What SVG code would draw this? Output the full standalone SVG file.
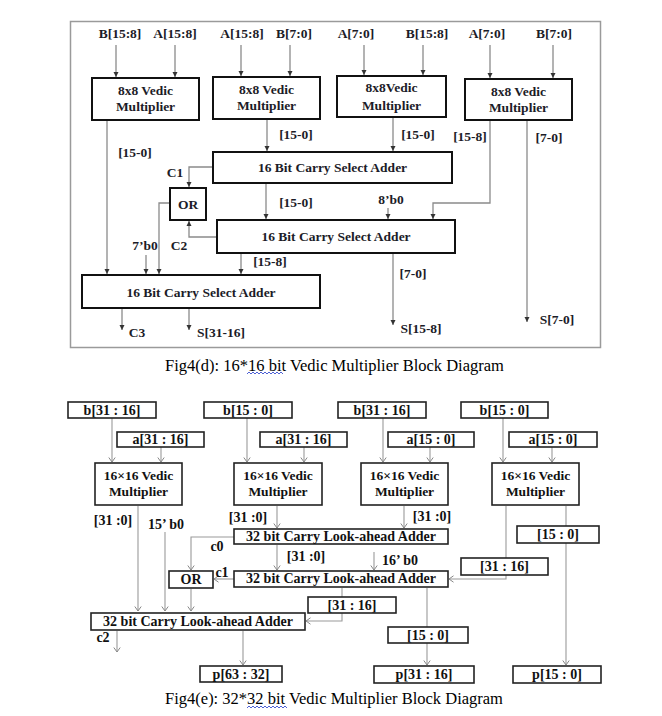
<svg xmlns="http://www.w3.org/2000/svg" width="662" height="716" viewBox="0 0 662 716">
<defs>
<style>
.t{font-family:"Liberation Serif","Times New Roman",serif;font-weight:bold;font-size:13.5px;fill:#1c1c28;text-anchor:middle}
.b{font-family:"Liberation Serif","Times New Roman",serif;font-weight:bold;font-size:14px;fill:#111;text-anchor:middle}
.m{font-family:"Liberation Serif","Times New Roman",serif;font-weight:bold;font-size:13.5px;fill:#111;text-anchor:middle}
.cap{font-family:"Liberation Serif","Times New Roman",serif;font-size:16.5px;fill:#000;text-anchor:middle}
.box{fill:#fff;stroke:#111;stroke-width:2}
.bx{fill:#fff;stroke:#222;stroke-width:1.6}
.ct{fill:none;stroke:#8a8a8a;stroke-width:1.3}
.cb{fill:none;stroke:#9a9a9a;stroke-width:1.1}
.wv{fill:none;stroke:#3a4fd0;stroke-width:0.9}
</style>
<marker id="aT" markerUnits="userSpaceOnUse" markerWidth="6" markerHeight="6" refX="5" refY="3" orient="auto">
<path d="M0,0.5 L5,3 L0,5.5 z" fill="#333"/>
</marker>
<marker id="aB" markerUnits="userSpaceOnUse" markerWidth="7" markerHeight="8" refX="5" refY="4" orient="auto">
<path d="M0.5,0.8 L5,4 L0.5,7.2" fill="none" stroke="#888" stroke-width="1"/>
</marker>
</defs>
<rect width="662" height="716" fill="#fff"/>

<!-- ===== Fig 4(d) ===== -->
<rect x="70.5" y="21.5" width="530" height="326" fill="none" stroke="#9a9a9a" stroke-width="1.5"/>

<g id="connectors-top">
<path class="ct" d="M116,45 V77" marker-end="url(#aT)"/>
<path class="ct" d="M175,45 V77" marker-end="url(#aT)"/>
<path class="ct" d="M241,45 V76" marker-end="url(#aT)"/>
<path class="ct" d="M290,45 V76" marker-end="url(#aT)"/>
<path class="ct" d="M364,45 V75" marker-end="url(#aT)"/>
<path class="ct" d="M423,45 V75" marker-end="url(#aT)"/>
<path class="ct" d="M490,45 V78" marker-end="url(#aT)"/>
<path class="ct" d="M553,45 V78" marker-end="url(#aT)"/>
<path class="ct" d="M107,121 V274" marker-end="url(#aT)"/>
<path class="ct" d="M267,120 V151" marker-end="url(#aT)"/>
<path class="ct" d="M393,118 V151" marker-end="url(#aT)"/>
<path class="ct" d="M490,121 V203 H433 V219" marker-end="url(#aT)"/>
<path class="ct" d="M527,121 V322" marker-end="url(#aT)"/>
<path class="ct" d="M213,167 H189 V187" marker-end="url(#aT)"/>
<path class="ct" d="M266,184 V219" marker-end="url(#aT)"/>
<path class="ct" d="M388,208 V219" marker-end="url(#aT)"/>
<path class="ct" d="M217,237 H189 V221" marker-end="url(#aT)"/>
<path class="ct" d="M170,203 H159 V274" marker-end="url(#aT)"/>
<path class="ct" d="M146,255 V274" marker-end="url(#aT)"/>
<path class="ct" d="M241,254 V274" marker-end="url(#aT)"/>
<path class="ct" d="M393,254 V325" marker-end="url(#aT)"/>
<path class="ct" d="M122,309 V330" marker-end="url(#aT)"/>
<path class="ct" d="M189,309 V330" marker-end="url(#aT)"/>
</g>

<g id="top-labels">
<text class="t" x="120" y="38">B[15:8]</text>
<text class="t" x="175" y="38">A[15:8]</text>
<text class="t" x="242" y="38">A[15:8]</text>
<text class="t" x="294" y="38">B[7:0]</text>
<text class="t" x="356" y="38">A[7:0]</text>
<text class="t" x="427" y="38">B[15:8]</text>
<text class="t" x="487" y="38">A[7:0]</text>
<text class="t" x="554" y="38">B[7:0]</text>
<text class="t" x="135" y="157">[15-0]</text>
<text class="t" x="296" y="139">[15-0]</text>
<text class="t" x="418" y="139">[15-0]</text>
<text class="t" x="470" y="141">[15-8]</text>
<text class="t" x="549" y="142">[7-0]</text>
<text class="t" x="175" y="177">C1</text>
<text class="t" x="296" y="207">[15-0]</text>
<text class="t" x="391" y="204">8’b0</text>
<text class="t" x="179" y="250">C2</text>
<text class="t" x="145" y="250">7’b0</text>
<text class="t" x="270" y="266">[15-8]</text>
<text class="t" x="413" y="278">[7-0]</text>
<text class="t" x="421" y="333">S[15-8]</text>
<text class="t" x="557" y="324">S[7-0]</text>
<text class="t" x="137" y="337">C3</text>
<text class="t" x="221" y="337">S[31-16]</text>
</g>

<g id="vm1"><rect class="box" x="92" y="78" width="107" height="42"/><text class="t" x="145.5" y="95">8x8 Vedic</text><text class="t" x="145.5" y="111">Multiplier</text></g>
<g id="vm2"><rect class="box" x="213" y="77" width="107" height="42"/><text class="t" x="266.5" y="94">8x8 Vedic</text><text class="t" x="266.5" y="110">Multiplier</text></g>
<g id="vm3"><rect class="box" x="337" y="76" width="109" height="41"/><text class="t" x="391.5" y="92">8x8Vedic</text><text class="t" x="391.5" y="110">Multiplier</text></g>
<g id="vm4"><rect class="box" x="465" y="79" width="107" height="41"/><text class="t" x="518.5" y="96">8x8 Vedic</text><text class="t" x="518.5" y="112">Multiplier</text></g>
<g id="csa1"><rect class="box" x="213" y="152" width="239" height="31"/><text class="t" x="332.5" y="172">16 Bit Carry Select Adder</text></g>
<g id="or1"><rect class="box" x="170" y="188" width="36" height="32"/><text class="t" x="188" y="209">OR</text></g>
<g id="csa2"><rect class="box" x="217" y="220" width="238" height="33"/><text class="t" x="336" y="241">16 Bit Carry Select Adder</text></g>
<g id="csa3"><rect class="box" x="82" y="275" width="238" height="33"/><text class="t" x="201" y="297">16 Bit Carry Select Adder</text></g>

<g id="caption1">
<text class="cap" x="334.5" y="371">Fig4(d): 16*16 bit Vedic Multiplier Block Diagram</text>
<path class="wv" d="M247,374 l2,-2 l2,2 l2,-2 l2,2 l2,-2 l2,2 l2,-2 l2,2 l2,-2 l2,2 l2,-2 l2,2 l2,-2 l2,2 l2,-2 l2,2 l2,-2 l2,2"/>
</g>

<!-- ===== Fig 4(e) ===== -->
<g id="connectors-bottom">
<path class="cb" d="M112,418 V462" marker-end="url(#aB)"/>
<path class="cb" d="M161,447 V462" marker-end="url(#aB)"/>
<path class="cb" d="M247,418 V462" marker-end="url(#aB)"/>
<path class="cb" d="M304,447 V462" marker-end="url(#aB)"/>
<path class="cb" d="M383,418 V462" marker-end="url(#aB)"/>
<path class="cb" d="M430,447 V462" marker-end="url(#aB)"/>
<path class="cb" d="M503,418 V462" marker-end="url(#aB)"/>
<path class="cb" d="M552,447 V462" marker-end="url(#aB)"/>
<path class="cb" d="M138,506 V611" marker-end="url(#aB)"/>
<path class="cb" d="M165,532 V611" marker-end="url(#aB)"/>
<path class="cb" d="M277,506 V528" marker-end="url(#aB)"/>
<path class="cb" d="M404,506 V528" marker-end="url(#aB)"/>
<path class="cb" d="M506,506 V558"/>
<path class="cb" d="M506,575 V579 H449" marker-end="url(#aB)"/>
<path class="cb" d="M566,506 V526"/>
<path class="cb" d="M566,543 V665" marker-end="url(#aB)"/>
<path class="cb" d="M234,537 H191 V570" marker-end="url(#aB)"/>
<path class="cb" d="M277,545 V570" marker-end="url(#aB)"/>
<path class="cb" d="M374,552 V570" marker-end="url(#aB)"/>
<path class="cb" d="M234,579 H214" marker-end="url(#aB)"/>
<path class="cb" d="M191,589 V611" marker-end="url(#aB)"/>
<path class="cb" d="M342,588 V597"/>
<path class="cb" d="M342,613 V621 H306" marker-end="url(#aB)"/>
<path class="cb" d="M427,588 V627"/>
<path class="cb" d="M427,643 V665" marker-end="url(#aB)"/>
<path class="cb" d="M117,631 V652" marker-end="url(#aB)"/>
<path class="cb" d="M243,631 V665" marker-end="url(#aB)"/>
</g>

<g id="bottom-labels">
<text class="b" x="113" y="525">[31 :0]</text>
<text class="b" x="166" y="529">15’ b0</text>
<text class="b" x="248" y="522">[31 :0]</text>
<text class="b" x="432" y="521">[31 :0]</text>
<text class="b" x="217" y="551">c0</text>
<text class="b" x="306" y="561">[31 :0]</text>
<text class="b" x="400" y="565">16’ b0</text>
<text class="b" x="222" y="577">c1</text>
<text class="b" x="103" y="642">c2</text>
</g>

<g id="in-b1"><rect class="bx" x="68" y="402" width="88" height="16"/><text class="b" x="112" y="415">b[31 : 16]</text></g>
<g id="in-a1"><rect class="bx" x="117" y="432" width="87" height="15"/><text class="b" x="160.5" y="444">a[31 : 16]</text></g>
<g id="in-b2"><rect class="bx" x="204" y="402" width="88" height="16"/><text class="b" x="248" y="415">b[15 : 0]</text></g>
<g id="in-a2"><rect class="bx" x="260" y="432" width="87" height="15"/><text class="b" x="303.5" y="444">a[31 : 16]</text></g>
<g id="in-b3"><rect class="bx" x="338" y="402" width="88" height="16"/><text class="b" x="382" y="415">b[31 : 16]</text></g>
<g id="in-a3"><rect class="bx" x="388" y="432" width="86" height="15"/><text class="b" x="431" y="444">a[15 : 0]</text></g>
<g id="in-b4"><rect class="bx" x="461" y="402" width="87" height="16"/><text class="b" x="504.5" y="415">b[15 : 0]</text></g>
<g id="in-a4"><rect class="bx" x="509" y="432" width="88" height="15"/><text class="b" x="553" y="444">a[15 : 0]</text></g>

<g id="m1"><rect class="bx" x="95" y="463" width="87" height="42"/><text class="m" x="138.5" y="480">16×16 Vedic</text><text class="m" x="138.5" y="496">Multiplier</text></g>
<g id="m2"><rect class="bx" x="234" y="463" width="88" height="42"/><text class="m" x="278" y="480">16×16 Vedic</text><text class="m" x="278" y="496">Multiplier</text></g>
<g id="m3"><rect class="bx" x="361" y="463" width="87" height="42"/><text class="m" x="404.5" y="480">16×16 Vedic</text><text class="m" x="404.5" y="496">Multiplier</text></g>
<g id="m4"><rect class="bx" x="492" y="463" width="87" height="42"/><text class="m" x="535.5" y="480">16×16 Vedic</text><text class="m" x="535.5" y="496">Multiplier</text></g>

<g id="cla1"><rect class="bx" x="234" y="529" width="214" height="15"/><text class="b" x="341" y="541">32 bit Carry Look-ahead Adder</text></g>
<g id="cla2"><rect class="bx" x="234" y="571" width="214" height="16"/><text class="b" x="341" y="583">32 bit Carry Look-ahead Adder</text></g>
<g id="or2"><rect class="bx" x="169" y="571" width="44" height="17"/><text class="b" x="191" y="584">OR</text></g>
<g id="cla3"><rect class="bx" x="91" y="613" width="214" height="17"/><text class="b" x="198" y="626">32 bit Carry Look-ahead Adder</text></g>
<g id="sl1"><rect class="bx" x="308" y="597" width="88" height="16"/><text class="b" x="352" y="610">[31 : 16]</text></g>
<g id="sl2"><rect class="bx" x="461" y="558" width="87" height="17"/><text class="b" x="504.5" y="571">[31 : 16]</text></g>
<g id="sl3"><rect class="bx" x="388" y="627" width="80" height="16"/><text class="b" x="428" y="640">[15 : 0]</text></g>
<g id="sl4"><rect class="bx" x="517" y="526" width="82" height="17"/><text class="b" x="558" y="539">[15 : 0]</text></g>
<g id="p1"><rect class="bx" x="200" y="666" width="82" height="16"/><text class="b" x="241" y="679">p[63 : 32]</text></g>
<g id="p2"><rect class="bx" x="374" y="666" width="100" height="17"/><text class="b" x="424" y="679">p[31 : 16]</text></g>
<g id="p3"><rect class="bx" x="513" y="666" width="88" height="17"/><text class="b" x="557" y="679">p[15 : 0]</text></g>

<g id="caption2">
<text class="cap" x="334" y="704">Fig4(e): 32*32 bit Vedic Multiplier Block Diagram</text>
<path class="wv" d="M247,708 l2,-2 l2,2 l2,-2 l2,2 l2,-2 l2,2 l2,-2 l2,2 l2,-2 l2,2 l2,-2 l2,2 l2,-2 l2,2 l2,-2 l2,2 l2,-2 l2,2 l2,-2 l2,2"/>
</g>
</svg>
